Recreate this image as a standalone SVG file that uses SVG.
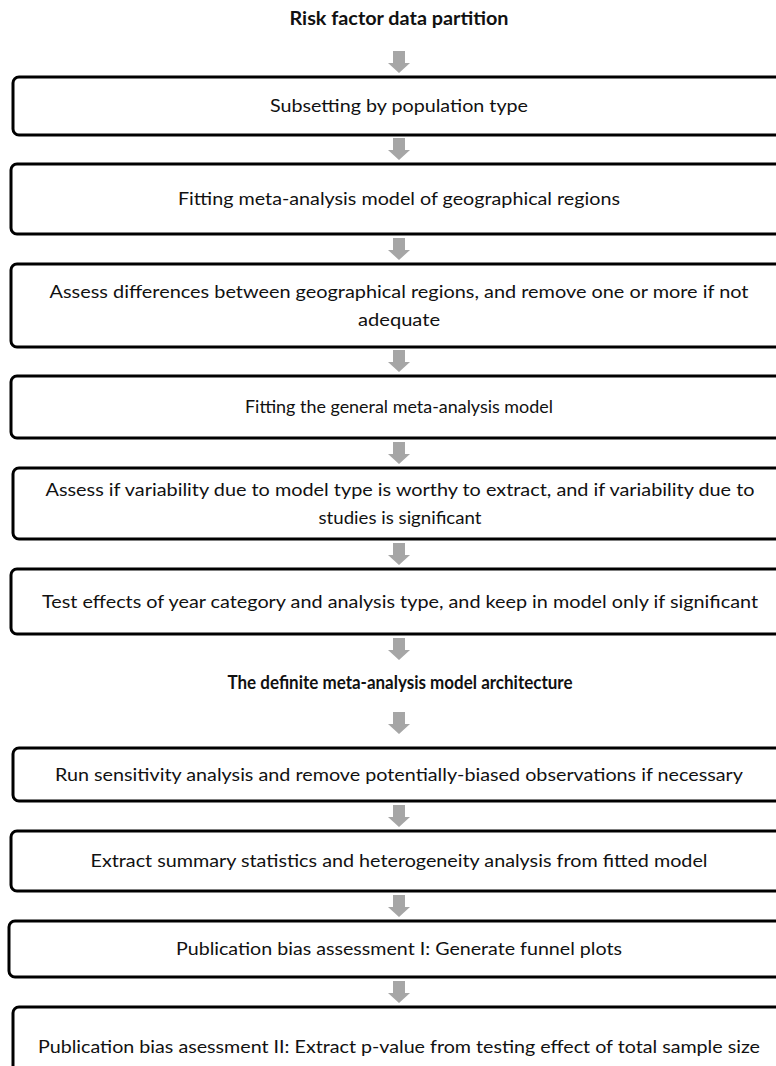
<svg xmlns="http://www.w3.org/2000/svg" width="776" height="1066" viewBox="0 0 776 1066">
<style>
.box{fill:#fff;stroke:#000;stroke-width:3}
.t{font-family:Lato,"Liberation Sans",sans-serif;font-size:18px;fill:#111;text-anchor:middle}
.h{font-family:Lato,"Liberation Sans",sans-serif;font-size:18px;font-weight:bold;fill:#111;text-anchor:middle}
.arr{fill:#a6a6a6}
</style>
<defs>
<path id="a" d="M-6,0 H6 V12 H11 L0,22 L-11,12 H-6 Z"/>
</defs>
<rect width="776" height="1066" fill="#fff"/>
<g id="title1"><text class="h" x="399" y="25" textLength="219" lengthAdjust="spacingAndGlyphs">Risk factor data partition</text></g>
<g id="connectors">
<use href="#a" class="arr" x="399" y="51"/>
<use href="#a" class="arr" x="399" y="138"/>
<use href="#a" class="arr" x="399" y="238"/>
<use href="#a" class="arr" x="399" y="350"/>
<use href="#a" class="arr" x="399" y="442"/>
<use href="#a" class="arr" x="399" y="543"/>
<use href="#a" class="arr" x="399" y="638"/>
<use href="#a" class="arr" x="399" y="712"/>
<use href="#a" class="arr" x="399" y="805"/>
<use href="#a" class="arr" x="399" y="895"/>
<use href="#a" class="arr" x="399" y="981"/>
</g>
<g id="n1"><rect class="box" x="13" y="77" width="790" height="58" rx="6"/>
<text class="t" x="399" y="112" textLength="258" lengthAdjust="spacingAndGlyphs">Subsetting by population type</text></g>
<g id="n2"><rect class="box" x="11" y="164" width="790" height="70" rx="6"/>
<text class="t" x="399" y="205" textLength="442" lengthAdjust="spacingAndGlyphs">Fitting meta-analysis model of geographical regions</text></g>
<g id="n3"><rect class="box" x="11" y="264" width="790" height="83" rx="6"/>
<text class="t" x="399" y="298" textLength="699" lengthAdjust="spacingAndGlyphs">Assess differences between geographical regions, and remove one or more if not</text>
<text class="t" x="399" y="326" textLength="82" lengthAdjust="spacingAndGlyphs">adequate</text></g>
<g id="n4"><rect class="box" x="11" y="376" width="790" height="62" rx="6"/>
<text class="t" x="399" y="413" textLength="308" lengthAdjust="spacingAndGlyphs">Fitting the general meta-analysis model</text></g>
<g id="n5"><rect class="box" x="13" y="468" width="790" height="71" rx="6"/>
<text class="t" x="400" y="496" textLength="709" lengthAdjust="spacingAndGlyphs">Assess if variability due to model type is worthy to extract, and if variability due to</text>
<text class="t" x="400" y="524" textLength="163" lengthAdjust="spacingAndGlyphs">studies is significant</text></g>
<g id="n6"><rect class="box" x="11" y="569" width="790" height="65" rx="6"/>
<text class="t" x="400" y="608" textLength="716" lengthAdjust="spacingAndGlyphs">Test effects of year category and analysis type, and keep in model only if significant</text></g>
<g id="title2"><text class="h" x="400" y="689" textLength="345" lengthAdjust="spacingAndGlyphs">The definite meta-analysis model architecture</text></g>
<g id="n7"><rect class="box" x="13" y="748" width="790" height="53" rx="6"/>
<text class="t" x="399" y="781" textLength="688" lengthAdjust="spacingAndGlyphs">Run sensitivity analysis and remove potentially-biased observations if necessary</text></g>
<g id="n8"><rect class="box" x="11" y="831" width="790" height="60" rx="6"/>
<text class="t" x="399" y="867" textLength="617" lengthAdjust="spacingAndGlyphs">Extract summary statistics and heterogeneity analysis from fitted model</text></g>
<g id="n9"><rect class="box" x="9" y="921" width="790" height="56" rx="6"/>
<text class="t" x="399" y="955" textLength="446" lengthAdjust="spacingAndGlyphs">Publication bias assessment I: Generate funnel plots</text></g>
<g id="n10"><rect class="box" x="13" y="1007" width="790" height="70" rx="6"/>
<text class="t" x="399" y="1053" textLength="722" lengthAdjust="spacingAndGlyphs">Publication bias asessment II: Extract p-value from testing effect of total sample size</text></g>
</svg>
